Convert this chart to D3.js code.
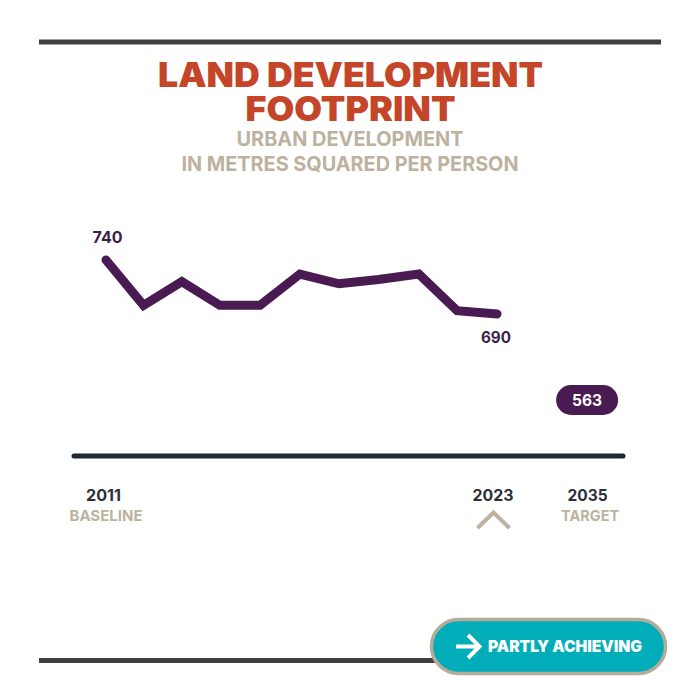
<!DOCTYPE html>
<html><head><meta charset="utf-8">
<script src="https://cdn.jsdelivr.net/npm/d3@7/dist/d3.min.js"></script>
<style>html,body{margin:0;padding:0;background:#fff}svg{display:block}text{font-family:Inter,"Noto Sans",sans-serif}</style>
</head><body><div id="c"></div>
<script>
const titleLines = ["LAND DEVELOPMENT", "FOOTPRINT"];
const subtitleLines = ["URBAN DEVELOPMENT", "IN METRES SQUARED PER PERSON"];
const pointIndex = [0,0.96,1.94,2.91,3.94,4.96,5.96,6.97,8,8.98,10];
const values = [740,698,720,698,698,727,718,722,727,693,690];
const tickIndex = [0,10,12.33];
const tickYears = ["2011","2023","2035"];
const tickNotes = ["BASELINE","","TARGET"];
const targetValue = 563;
const status = "PARTLY ACHIEVING";

const W=700,H=700;
const svg=d3.select("#c").append("svg").attr("width",W).attr("height",H);
const x=d3.scaleLinear().domain([0,10]).range([106,497]);
const y=d3.scaleLinear().domain([563,690,740]).range([400,314,260]);

const purple="#4a1a52",tan="#bdb2a0",red="#c44527",dark="#3f3f41",navy="#1d2a36";

svg.append("line").attr("x1",39).attr("x2",661).attr("y1",42).attr("y2",42).attr("stroke",dark).attr("stroke-width",5);
svg.append("line").attr("x1",39).attr("x2",440).attr("y1",660.5).attr("y2",660.5).attr("stroke",dark).attr("stroke-width",5);

const titleW=[385,210], subW=[227,337];
svg.selectAll("text.t").data(titleLines).join("text").attr("class","t")
 .attr("x",350.5).attr("y",(d,i)=>86.5+i*34.5).attr("text-anchor","middle")
 .attr("font-size",34).attr("font-weight",900).attr("fill",red)
 .attr("textLength",(d,i)=>titleW[i]).attr("lengthAdjust","spacingAndGlyphs").text(d=>d);
svg.selectAll("text.s").data(subtitleLines).join("text").attr("class","s")
 .attr("x",350).attr("y",(d,i)=>146+i*24.5).attr("text-anchor","middle")
 .attr("font-size",20).attr("font-weight",700).attr("fill",tan)
 .attr("textLength",(d,i)=>subW[i]).attr("lengthAdjust","spacingAndGlyphs").text(d=>d);

const line=d3.line().x((d,i)=>x(pointIndex[i])).y(d=>y(d));
svg.append("path").datum(values).attr("d",line).attr("fill","none").attr("stroke",purple)
 .attr("stroke-width",9).attr("stroke-linecap","round").attr("stroke-linejoin","miter");

function num(t,px,py,fill,len){return svg.append("text").attr("x",px).attr("y",py).attr("text-anchor","middle")
 .attr("font-size",15.5).attr("font-weight",700).attr("fill",fill)
 .attr("textLength",len).attr("lengthAdjust","spacingAndGlyphs").text(t);}
num(values[0],x(0)+1.5,y(values[0])-17,"#3c1f48",30);
num(values[10],x(10)-1,y(values[10])+29,"#3c1f48",30);

const tx=x(tickIndex[2]),ty=y(targetValue);
svg.append("rect").attr("x",tx-32).attr("y",ty-15).attr("width",62).attr("height",30).attr("rx",15).attr("fill",purple);
num(targetValue,tx-1,ty+5.5,"#fff",30);

svg.append("line").attr("x1",74).attr("x2",623).attr("y1",456).attr("y2",456).attr("stroke",navy).attr("stroke-width",5).attr("stroke-linecap","round");

const off=[-2.5,-4,-0.5], yearW=[35,41,40];
tickYears.forEach((t,i)=>num(t,x(tickIndex[i])+off[i],501,"#2b2f3a",yearW[i]));
const noteOff=[0,0,2], noteW=[73,0,58];
tickNotes.forEach((t,i)=>{ if(t) svg.append("text").attr("x",x(tickIndex[i])+noteOff[i]).attr("y",521).attr("text-anchor","middle")
 .attr("font-size",15).attr("font-weight",700).attr("fill",tan)
 .attr("textLength",noteW[i]).attr("lengthAdjust","spacingAndGlyphs").text(t);});

const cx=x(tickIndex[1])-3.5;
svg.append("path").attr("d",d3.line()([[cx-16,528],[cx,512.5],[cx+16,528]])).attr("fill","none").attr("stroke",tan).attr("stroke-width",4);

svg.append("rect").attr("x",431.5).attr("y",619.5).attr("width",234).attr("height",54).attr("rx",27).attr("fill","#00adb9").attr("stroke","#b5ab9b").attr("stroke-width",3.5);
svg.append("path").attr("d","M456 646.5H478M468 635L479.5 646.5L468 658").attr("fill","none").attr("stroke","#fff").attr("stroke-width",4);
svg.append("text").attr("x",488).attr("y",652).attr("font-size",16).attr("font-weight",900).attr("fill","#fff")
 .attr("textLength",154).attr("lengthAdjust","spacingAndGlyphs").text(status);
</script></body></html>
